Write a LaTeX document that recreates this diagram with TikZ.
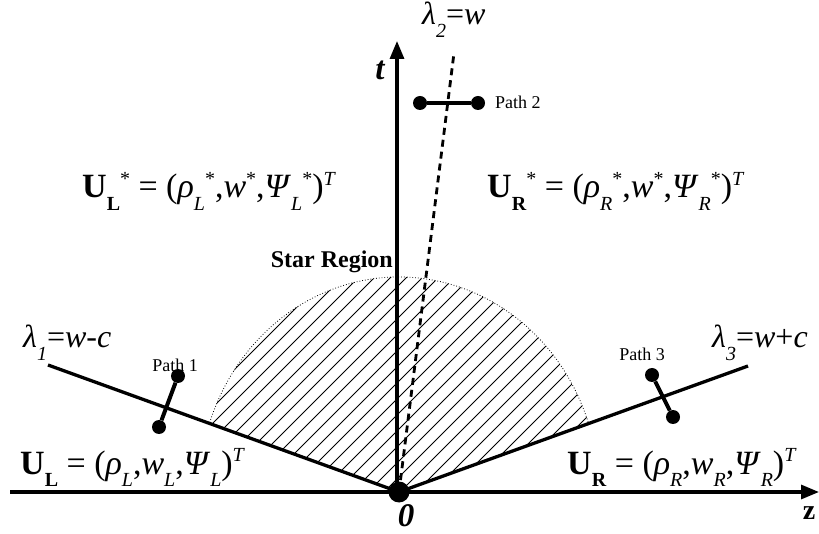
\documentclass[tikz,border=0pt]{standalone}
\usepackage{fontspec}
\setmainfont{Liberation Serif}
\usetikzlibrary{arrows.meta}
\newcommand\lsub[1]{\raisebox{-0.38em}{\fontsize{20}{20}\selectfont #1}}
\newcommand\lsup[1]{\raisebox{0.36em}{\fontsize{20}{20}\selectfont #1}}
\tikzset{
  axis/.style={line width=3.2pt, -{Triangle[length=18pt,width=14pt]}},
  wave/.style={line width=3.3pt},
  contact/.style={line width=2.8pt, dash pattern=on 7pt off 5pt},
  hatch/.style={line width=0.8pt},
  pdot/.style={circle, fill=black, inner sep=0pt, minimum size=14pt},
  pbar/.style={line width=4pt},
  big/.style={font=\fontsize{34}{34}\selectfont, inner sep=0pt},
  lam/.style={font=\fontsize{32}{32}\selectfont, inner sep=0pt},
  plab/.style={font=\fontsize{18}{18}\selectfont, inner sep=0pt},
}
\begin{document}
\begin{tikzpicture}[x=1pt,y=1pt]
\useasboundingbox (0,0) rectangle (819,533);
\coordinate (O) at (399,41);
\coordinate (zs) at (10,41);
\coordinate (zt) at (819,41);
\coordinate (tb) at (397,41);
\coordinate (tt) at (397,492);
\coordinate (L1) at (48,168);
\coordinate (L3) at (748,167);
\coordinate (L2) at (454,480);
% hatched star region
\begin{scope}
\clip (O) ellipse [x radius=200, y radius=215];
\clip (O) -- (L1) -- (48,533) -- (748,533) -- (L3) -- cycle;
\foreach \x in {-400,-384,...,800} \draw[hatch] (\x,41) -- ++(420,420);
\end{scope}
\path (O) ++(189.1,70) coordinate (arcR);
\draw[dotted, line width=0.8pt] (arcR) arc[start angle=19, end angle=161, x radius=200, y radius=215];
% axes
\draw[axis] (zs) -- (zt);
\draw[axis] (tb) -- (tt);
% waves
\draw[wave] (L1) -- (O);
\draw[wave] (L3) -- (O);
\draw[contact] (O) -- (L2);
\node[circle, fill=black, inner sep=0pt, minimum size=21pt] (Od) at (O) {};
% paths
\node[pdot] (p1a) at (159,106) {};
\node[pdot] (p1b) at (178,157) {};
\draw[pbar] (p1a) -- (p1b);
\node[plab] (p1l) at (175,168) {Path 1};
\node[pdot] (p2a) at (420,430) {};
\node[pdot] (p2b) at (478,430) {};
\draw[pbar] (p2a) -- (p2b);
\node[plab, anchor=west] (p2l) at (495,431) {Path 2};
\node[pdot] (p3a) at (652,158) {};
\node[pdot] (p3b) at (673,116) {};
\draw[pbar] (p3a) -- (p3b);
\node[plab] (p3l) at (642,179) {Path 3};
% labels
\node[big, anchor=base west] (ULs) at (82,335) {\textbf{U}\lsub{\textbf{L}}\lsup{*} = (\textit{ρ}\lsub{\textit{L}}\lsup{*},\textit{w}\lsup{*},\textit{Ψ}\lsub{\textit{L}}\lsup{*})\lsup{\textit{T}}};
\node[big, anchor=base west] (URs) at (487,335) {\textbf{U}\lsub{\textbf{R}}\lsup{*} = (\textit{ρ}\lsub{\textit{R}}\lsup{*},\textit{w}\lsup{*},\textit{Ψ}\lsub{\textit{R}}\lsup{*})\lsup{\textit{T}}};
\node[big, anchor=base west] (UL) at (20,59) {\textbf{U}\lsub{\textbf{L}} = (\textit{ρ}\lsub{\textit{L}},\textit{w}\lsub{\textit{L}},\textit{Ψ}\lsub{\textit{L}})\lsup{\textit{T}}};
\node[big, anchor=base west] (UR) at (567,59) {\textbf{U}\lsub{\textbf{R}} = (\textit{ρ}\lsub{\textit{R}},\textit{w}\lsub{\textit{R}},\textit{Ψ}\lsub{\textit{R}})\lsup{\textit{T}}};
\node[font=\fontsize{24}{24}\selectfont\bfseries, inner sep=0pt, anchor=base east] (star) at (393,265) {Star Region};
\node[lam, anchor=base west] (lam2) at (422,508) {\textit{λ}\lsub{\textit{2}}=\textit{w}};
\node[lam, anchor=base west] (lam1) at (23,185) {\textit{λ}\lsub{\textit{1}}=\textit{w-c}};
\node[lam, anchor=base west] (lam3) at (712,185) {\textit{λ}\lsub{\textit{3}}=\textit{w}+\textit{c}};
\node[font=\fontsize{33}{33}\selectfont\bfseries\itshape, inner sep=0pt] (tl) at (380,463) {t};
\node[font=\fontsize{28}{28}\selectfont\bfseries, inner sep=0pt] (zl) at (809,20) {z};
\node[font=\fontsize{33}{33}\selectfont\bfseries\itshape, inner sep=0pt] (ol) at (406,17) {0};
\end{tikzpicture}
\end{document}
